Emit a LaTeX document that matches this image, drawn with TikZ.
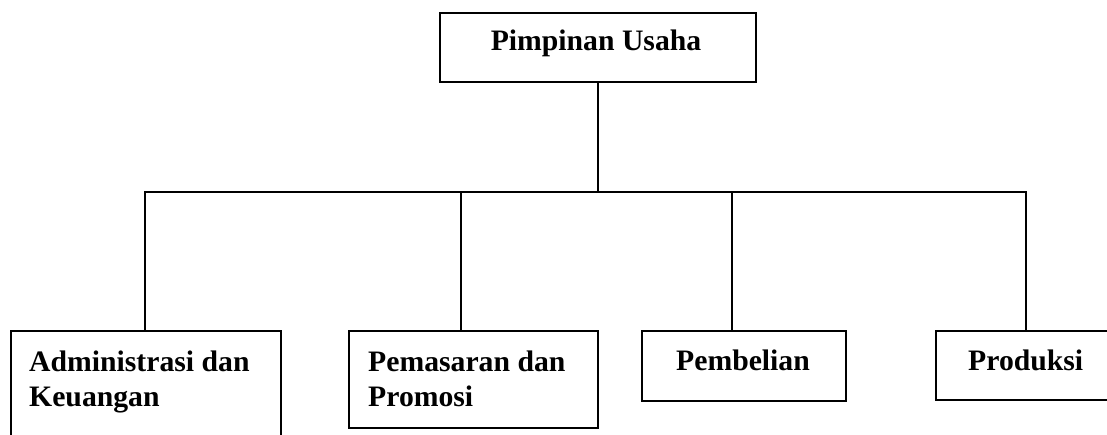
\documentclass[tikz,border=0pt]{standalone}
\usepackage{fontspec}
\setmainfont{Liberation Serif}
\newcommand{\twolines}[2]{\begin{tabular}[t]{@{}l@{}}#1\\#2\end{tabular}}
\begin{document}
\begin{tikzpicture}[x=1pt,y=1pt,
  box/.style={draw=black,line width=1.6pt,inner sep=0pt,anchor=north west},
  lbl/.style={inner sep=0pt,font=\fontsize{29.7}{35.6}\selectfont\bfseries},
  conn/.style={draw=black,line width=1.4pt}]
\useasboundingbox (0,0) rectangle (1107,-434);
\clip (0,0) rectangle (1107,-434);
% boxes
\node[box,minimum width=316,minimum height=69] (top) at (439,-12) {};
\node[box,minimum width=270,minimum height=140] (adm) at (10,-330) {};
\node[box,minimum width=249,minimum height=97] (pem) at (348,-330) {};
\node[box,minimum width=204,minimum height=70] (pbl) at (641,-330) {};
\node[box,minimum width=204,minimum height=69] (prd) at (935,-330) {};
% labels
\node[lbl,anchor=base] (topt) at (596,-50) {Pimpinan Usaha};
\node[lbl,anchor=base west] (admt) at (29,-371) {\twolines{Administrasi dan}{Keuangan}};
\node[lbl,anchor=base west] (pemt) at (368,-371) {\twolines{Pemasaran dan}{Promosi}};
\node[lbl,anchor=base] (pblt) at (743,-370) {Pembelian};
\node[lbl,anchor=base west] (prdt) at (968,-370) {Produksi};
% connectors
\coordinate (bus) at (top.south |- 0,-192);
\draw[conn] (top.south) -- (bus);
\draw[conn] ([xshift=135pt]adm.north west) |- (bus) -| ([xshift=91pt]prd.north west);
\draw[conn] ([xshift=113pt]pem.north west) -- ([xshift=113pt]pem.north west |- bus);
\draw[conn] ([xshift=91pt]pbl.north west) -- ([xshift=91pt]pbl.north west |- bus);
\end{tikzpicture}
\end{document}
